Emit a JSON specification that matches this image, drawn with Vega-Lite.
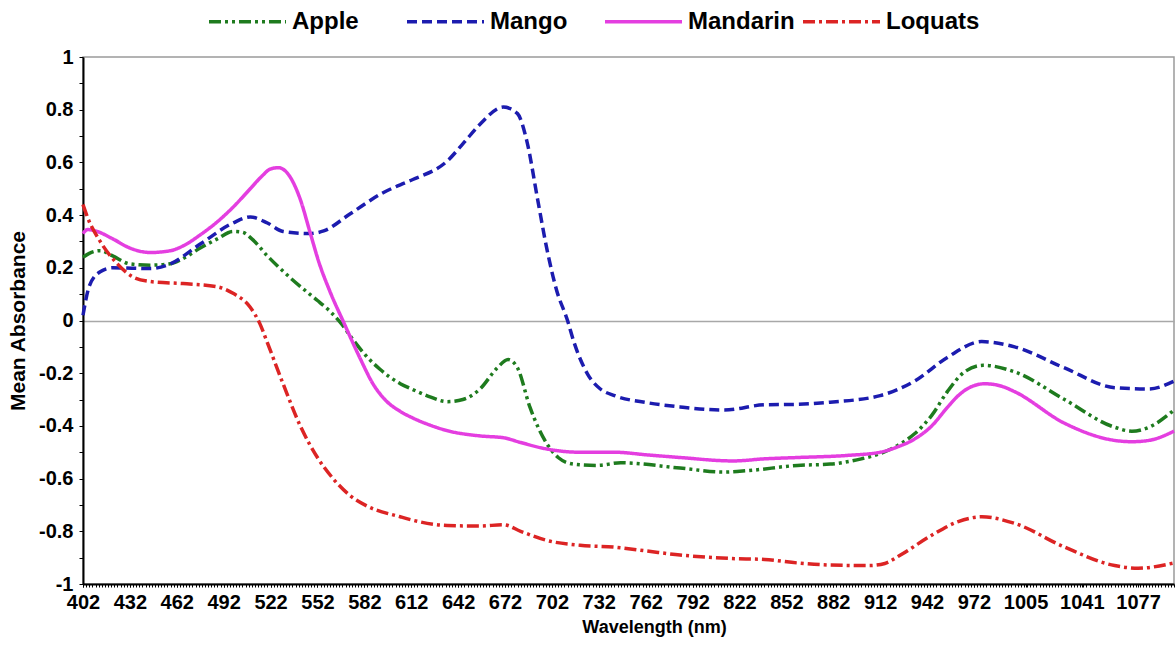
{
  "$schema": "https://vega.github.io/schema/vega-lite/v6.json",
  "width": 1091,
  "height": 527,
  "autosize": {"type": "none"},
  "padding": {"left": 83, "top": 57, "right": 1, "bottom": 61},
  "background": "white",
  "config": {
    "view": {"stroke": "#9a9a9a", "strokeWidth": 1.5},
    "font": "Liberation Sans"
  },
  "data": {
    "values": [
      {"fruit": "Apple", "nm": 402, "absorbance": 0.24},
      {"fruit": "Apple", "nm": 406, "absorbance": 0.255},
      {"fruit": "Apple", "nm": 413, "absorbance": 0.265},
      {"fruit": "Apple", "nm": 421, "absorbance": 0.245},
      {"fruit": "Apple", "nm": 432, "absorbance": 0.215},
      {"fruit": "Apple", "nm": 445, "absorbance": 0.21},
      {"fruit": "Apple", "nm": 458, "absorbance": 0.215},
      {"fruit": "Apple", "nm": 466, "absorbance": 0.235},
      {"fruit": "Apple", "nm": 477, "absorbance": 0.275},
      {"fruit": "Apple", "nm": 488, "absorbance": 0.31},
      {"fruit": "Apple", "nm": 498, "absorbance": 0.338},
      {"fruit": "Apple", "nm": 504, "absorbance": 0.335},
      {"fruit": "Apple", "nm": 510, "absorbance": 0.31},
      {"fruit": "Apple", "nm": 520, "absorbance": 0.245},
      {"fruit": "Apple", "nm": 535, "absorbance": 0.16},
      {"fruit": "Apple", "nm": 547, "absorbance": 0.1},
      {"fruit": "Apple", "nm": 552, "absorbance": 0.076},
      {"fruit": "Apple", "nm": 560, "absorbance": 0.035},
      {"fruit": "Apple", "nm": 567, "absorbance": -0.01},
      {"fruit": "Apple", "nm": 575, "absorbance": -0.075},
      {"fruit": "Apple", "nm": 584, "absorbance": -0.14},
      {"fruit": "Apple", "nm": 592, "absorbance": -0.185},
      {"fruit": "Apple", "nm": 605, "absorbance": -0.24},
      {"fruit": "Apple", "nm": 613, "absorbance": -0.262},
      {"fruit": "Apple", "nm": 624, "absorbance": -0.29},
      {"fruit": "Apple", "nm": 635, "absorbance": -0.308},
      {"fruit": "Apple", "nm": 645, "absorbance": -0.3},
      {"fruit": "Apple", "nm": 656, "absorbance": -0.26},
      {"fruit": "Apple", "nm": 667, "absorbance": -0.18},
      {"fruit": "Apple", "nm": 674, "absorbance": -0.148},
      {"fruit": "Apple", "nm": 680, "absorbance": -0.18},
      {"fruit": "Apple", "nm": 688, "absorbance": -0.33},
      {"fruit": "Apple", "nm": 699, "absorbance": -0.47},
      {"fruit": "Apple", "nm": 706, "absorbance": -0.52},
      {"fruit": "Apple", "nm": 716, "absorbance": -0.545},
      {"fruit": "Apple", "nm": 731, "absorbance": -0.55},
      {"fruit": "Apple", "nm": 746, "absorbance": -0.54},
      {"fruit": "Apple", "nm": 784, "absorbance": -0.56},
      {"fruit": "Apple", "nm": 812, "absorbance": -0.575},
      {"fruit": "Apple", "nm": 827, "absorbance": -0.57},
      {"fruit": "Apple", "nm": 859, "absorbance": -0.55},
      {"fruit": "Apple", "nm": 880, "absorbance": -0.545},
      {"fruit": "Apple", "nm": 900, "absorbance": -0.525},
      {"fruit": "Apple", "nm": 912, "absorbance": -0.505},
      {"fruit": "Apple", "nm": 923, "absorbance": -0.475},
      {"fruit": "Apple", "nm": 934, "absorbance": -0.43},
      {"fruit": "Apple", "nm": 945, "absorbance": -0.36},
      {"fruit": "Apple", "nm": 955, "absorbance": -0.27},
      {"fruit": "Apple", "nm": 966, "absorbance": -0.195},
      {"fruit": "Apple", "nm": 978, "absorbance": -0.17},
      {"fruit": "Apple", "nm": 998, "absorbance": -0.195},
      {"fruit": "Apple", "nm": 1030, "absorbance": -0.3},
      {"fruit": "Apple", "nm": 1062, "absorbance": -0.405},
      {"fruit": "Apple", "nm": 1073, "absorbance": -0.42},
      {"fruit": "Apple", "nm": 1084, "absorbance": -0.405},
      {"fruit": "Apple", "nm": 1100, "absorbance": -0.34},

      {"fruit": "Mango", "nm": 402, "absorbance": 0.02},
      {"fruit": "Mango", "nm": 406, "absorbance": 0.13},
      {"fruit": "Mango", "nm": 413, "absorbance": 0.185},
      {"fruit": "Mango", "nm": 421, "absorbance": 0.2},
      {"fruit": "Mango", "nm": 445, "absorbance": 0.197},
      {"fruit": "Mango", "nm": 456, "absorbance": 0.21},
      {"fruit": "Mango", "nm": 477, "absorbance": 0.29},
      {"fruit": "Mango", "nm": 498, "absorbance": 0.37},
      {"fruit": "Mango", "nm": 509, "absorbance": 0.393},
      {"fruit": "Mango", "nm": 520, "absorbance": 0.37},
      {"fruit": "Mango", "nm": 530, "absorbance": 0.338},
      {"fruit": "Mango", "nm": 547, "absorbance": 0.33},
      {"fruit": "Mango", "nm": 556, "absorbance": 0.34},
      {"fruit": "Mango", "nm": 573, "absorbance": 0.405},
      {"fruit": "Mango", "nm": 594, "absorbance": 0.485},
      {"fruit": "Mango", "nm": 605, "absorbance": 0.515},
      {"fruit": "Mango", "nm": 613, "absorbance": 0.535},
      {"fruit": "Mango", "nm": 635, "absorbance": 0.605},
      {"fruit": "Mango", "nm": 645, "absorbance": 0.67},
      {"fruit": "Mango", "nm": 656, "absorbance": 0.745},
      {"fruit": "Mango", "nm": 671, "absorbance": 0.81},
      {"fruit": "Mango", "nm": 680, "absorbance": 0.785},
      {"fruit": "Mango", "nm": 686, "absorbance": 0.68},
      {"fruit": "Mango", "nm": 693, "absorbance": 0.455},
      {"fruit": "Mango", "nm": 699, "absorbance": 0.265},
      {"fruit": "Mango", "nm": 705, "absorbance": 0.115},
      {"fruit": "Mango", "nm": 712, "absorbance": 0.0},
      {"fruit": "Mango", "nm": 716, "absorbance": -0.08},
      {"fruit": "Mango", "nm": 725, "absorbance": -0.205},
      {"fruit": "Mango", "nm": 733, "absorbance": -0.26},
      {"fruit": "Mango", "nm": 742, "absorbance": -0.285},
      {"fruit": "Mango", "nm": 763, "absorbance": -0.312},
      {"fruit": "Mango", "nm": 784, "absorbance": -0.328},
      {"fruit": "Mango", "nm": 812, "absorbance": -0.34},
      {"fruit": "Mango", "nm": 838, "absorbance": -0.32},
      {"fruit": "Mango", "nm": 859, "absorbance": -0.318},
      {"fruit": "Mango", "nm": 880, "absorbance": -0.31},
      {"fruit": "Mango", "nm": 912, "absorbance": -0.285},
      {"fruit": "Mango", "nm": 934, "absorbance": -0.23},
      {"fruit": "Mango", "nm": 955, "absorbance": -0.14},
      {"fruit": "Mango", "nm": 977, "absorbance": -0.08},
      {"fruit": "Mango", "nm": 998, "absorbance": -0.1},
      {"fruit": "Mango", "nm": 1030, "absorbance": -0.18},
      {"fruit": "Mango", "nm": 1062, "absorbance": -0.255},
      {"fruit": "Mango", "nm": 1084, "absorbance": -0.26},
      {"fruit": "Mango", "nm": 1100, "absorbance": -0.23},

      {"fruit": "Mandarin", "nm": 402, "absorbance": 0.33},
      {"fruit": "Mandarin", "nm": 405, "absorbance": 0.345},
      {"fruit": "Mandarin", "nm": 410, "absorbance": 0.34},
      {"fruit": "Mandarin", "nm": 421, "absorbance": 0.31},
      {"fruit": "Mandarin", "nm": 432, "absorbance": 0.275},
      {"fruit": "Mandarin", "nm": 445, "absorbance": 0.258},
      {"fruit": "Mandarin", "nm": 458, "absorbance": 0.265},
      {"fruit": "Mandarin", "nm": 466, "absorbance": 0.283},
      {"fruit": "Mandarin", "nm": 477, "absorbance": 0.325},
      {"fruit": "Mandarin", "nm": 488, "absorbance": 0.375},
      {"fruit": "Mandarin", "nm": 498, "absorbance": 0.43},
      {"fruit": "Mandarin", "nm": 509, "absorbance": 0.5},
      {"fruit": "Mandarin", "nm": 516, "absorbance": 0.545},
      {"fruit": "Mandarin", "nm": 522, "absorbance": 0.575},
      {"fruit": "Mandarin", "nm": 527, "absorbance": 0.58},
      {"fruit": "Mandarin", "nm": 531, "absorbance": 0.57},
      {"fruit": "Mandarin", "nm": 535, "absorbance": 0.54},
      {"fruit": "Mandarin", "nm": 541, "absorbance": 0.46},
      {"fruit": "Mandarin", "nm": 547, "absorbance": 0.34},
      {"fruit": "Mandarin", "nm": 553, "absorbance": 0.22},
      {"fruit": "Mandarin", "nm": 560, "absorbance": 0.11},
      {"fruit": "Mandarin", "nm": 569, "absorbance": -0.01},
      {"fruit": "Mandarin", "nm": 579, "absorbance": -0.14},
      {"fruit": "Mandarin", "nm": 588, "absorbance": -0.245},
      {"fruit": "Mandarin", "nm": 596, "absorbance": -0.305},
      {"fruit": "Mandarin", "nm": 605, "absorbance": -0.345},
      {"fruit": "Mandarin", "nm": 613, "absorbance": -0.37},
      {"fruit": "Mandarin", "nm": 624, "absorbance": -0.397},
      {"fruit": "Mandarin", "nm": 635, "absorbance": -0.418},
      {"fruit": "Mandarin", "nm": 656, "absorbance": -0.438},
      {"fruit": "Mandarin", "nm": 671, "absorbance": -0.445},
      {"fruit": "Mandarin", "nm": 682, "absorbance": -0.463},
      {"fruit": "Mandarin", "nm": 699, "absorbance": -0.488},
      {"fruit": "Mandarin", "nm": 720, "absorbance": -0.5},
      {"fruit": "Mandarin", "nm": 742, "absorbance": -0.5},
      {"fruit": "Mandarin", "nm": 763, "absorbance": -0.51},
      {"fruit": "Mandarin", "nm": 784, "absorbance": -0.52},
      {"fruit": "Mandarin", "nm": 818, "absorbance": -0.533},
      {"fruit": "Mandarin", "nm": 838, "absorbance": -0.525},
      {"fruit": "Mandarin", "nm": 859, "absorbance": -0.52},
      {"fruit": "Mandarin", "nm": 891, "absorbance": -0.512},
      {"fruit": "Mandarin", "nm": 912, "absorbance": -0.5},
      {"fruit": "Mandarin", "nm": 923, "absorbance": -0.48},
      {"fruit": "Mandarin", "nm": 934, "absorbance": -0.45},
      {"fruit": "Mandarin", "nm": 945, "absorbance": -0.4},
      {"fruit": "Mandarin", "nm": 955, "absorbance": -0.33},
      {"fruit": "Mandarin", "nm": 962, "absorbance": -0.285},
      {"fruit": "Mandarin", "nm": 970, "absorbance": -0.252},
      {"fruit": "Mandarin", "nm": 979, "absorbance": -0.24},
      {"fruit": "Mandarin", "nm": 990, "absorbance": -0.25},
      {"fruit": "Mandarin", "nm": 998, "absorbance": -0.27},
      {"fruit": "Mandarin", "nm": 1030, "absorbance": -0.39},
      {"fruit": "Mandarin", "nm": 1062, "absorbance": -0.455},
      {"fruit": "Mandarin", "nm": 1073, "absorbance": -0.46},
      {"fruit": "Mandarin", "nm": 1084, "absorbance": -0.455},
      {"fruit": "Mandarin", "nm": 1100, "absorbance": -0.42},

      {"fruit": "Loquats", "nm": 402, "absorbance": 0.44},
      {"fruit": "Loquats", "nm": 405, "absorbance": 0.39},
      {"fruit": "Loquats", "nm": 413, "absorbance": 0.3},
      {"fruit": "Loquats", "nm": 424, "absorbance": 0.215},
      {"fruit": "Loquats", "nm": 434, "absorbance": 0.165},
      {"fruit": "Loquats", "nm": 445, "absorbance": 0.148},
      {"fruit": "Loquats", "nm": 466, "absorbance": 0.14},
      {"fruit": "Loquats", "nm": 488, "absorbance": 0.128},
      {"fruit": "Loquats", "nm": 498, "absorbance": 0.103},
      {"fruit": "Loquats", "nm": 509, "absorbance": 0.05},
      {"fruit": "Loquats", "nm": 515, "absorbance": -0.01},
      {"fruit": "Loquats", "nm": 520, "absorbance": -0.085},
      {"fruit": "Loquats", "nm": 530, "absorbance": -0.24},
      {"fruit": "Loquats", "nm": 541, "absorbance": -0.4},
      {"fruit": "Loquats", "nm": 552, "absorbance": -0.52},
      {"fruit": "Loquats", "nm": 562, "absorbance": -0.6},
      {"fruit": "Loquats", "nm": 573, "absorbance": -0.665},
      {"fruit": "Loquats", "nm": 584, "absorbance": -0.705},
      {"fruit": "Loquats", "nm": 605, "absorbance": -0.745},
      {"fruit": "Loquats", "nm": 613, "absorbance": -0.758},
      {"fruit": "Loquats", "nm": 635, "absorbance": -0.778},
      {"fruit": "Loquats", "nm": 656, "absorbance": -0.78},
      {"fruit": "Loquats", "nm": 671, "absorbance": -0.775},
      {"fruit": "Loquats", "nm": 682, "absorbance": -0.8},
      {"fruit": "Loquats", "nm": 699, "absorbance": -0.835},
      {"fruit": "Loquats", "nm": 720, "absorbance": -0.853},
      {"fruit": "Loquats", "nm": 742, "absorbance": -0.86},
      {"fruit": "Loquats", "nm": 763, "absorbance": -0.875},
      {"fruit": "Loquats", "nm": 784, "absorbance": -0.89},
      {"fruit": "Loquats", "nm": 816, "absorbance": -0.903},
      {"fruit": "Loquats", "nm": 838, "absorbance": -0.907},
      {"fruit": "Loquats", "nm": 859, "absorbance": -0.92},
      {"fruit": "Loquats", "nm": 880, "absorbance": -0.928},
      {"fruit": "Loquats", "nm": 905, "absorbance": -0.93},
      {"fruit": "Loquats", "nm": 915, "absorbance": -0.922},
      {"fruit": "Loquats", "nm": 925, "absorbance": -0.89},
      {"fruit": "Loquats", "nm": 945, "absorbance": -0.815},
      {"fruit": "Loquats", "nm": 962, "absorbance": -0.763},
      {"fruit": "Loquats", "nm": 977, "absorbance": -0.745},
      {"fruit": "Loquats", "nm": 998, "absorbance": -0.77},
      {"fruit": "Loquats", "nm": 1030, "absorbance": -0.86},
      {"fruit": "Loquats", "nm": 1062, "absorbance": -0.93},
      {"fruit": "Loquats", "nm": 1077, "absorbance": -0.94},
      {"fruit": "Loquats", "nm": 1100, "absorbance": -0.92}
    ]
  },
  "layer": [
    {
      "mark": {"type": "line", "strokeWidth": 3.5, "interpolate": "monotone"},
      "encoding": {
        "x": {
          "field": "nm",
          "type": "quantitative",
          "scale": {"domain": [402, 1100], "nice": false, "zero": false},
          "axis": {
            "orient": "bottom",
            "title": "Wavelength (nm)",
            "titleX": 571,
            "values": [402, 432, 462, 492, 522, 552, 582, 612, 642, 672, 702, 732, 762, 792, 822, 852, 882, 912, 942, 972, 1005, 1041, 1077],
            "labelExpr": "'' + datum.value",
            "labelFlush": false,
            "labelOverlap": false,
            "grid": false,
            "domainColor": "black",
            "domainWidth": 2,
            "tickColor": "black",
            "tickSize": 3,
            "tickWidth": 1,
            "labelFont": "Liberation Sans",
            "labelFontSize": 20,
            "labelFontWeight": "bold",
            "labelColor": "black",
            "labelPadding": 5,
            "titleFont": "Liberation Sans",
            "titleFontSize": 18,
            "titleFontWeight": "bold",
            "titleColor": "black",
            "titlePadding": 6
          }
        },
        "y": {
          "field": "absorbance",
          "type": "quantitative",
          "scale": {"domain": [-1, 1], "nice": false},
          "axis": {
            "title": "Mean Absorbance",
            "values": [-1, -0.9, -0.8, -0.7, -0.6, -0.5, -0.4, -0.3, -0.2, -0.1, 0, 0.1, 0.2, 0.3, 0.4, 0.5, 0.6, 0.7, 0.8, 0.9, 1],
            "labelExpr": "abs(round(datum.value * 10)) % 2 == 0 ? '' + round(datum.value * 10) / 10 : ''",
            "labelFlush": false,
            "labelOverlap": false,
            "grid": true,
            "gridColor": "#a8a8a8",
            "gridWidth": 1.5,
            "gridOpacity": {"condition": {"test": "datum.value === 0", "value": 1}, "value": 0},
            "domainColor": "black",
            "domainWidth": 2,
            "tickColor": "black",
            "tickSize": 4,
            "tickWidth": 1,
            "labelFont": "Liberation Sans",
            "labelFontSize": 20,
            "labelFontWeight": "bold",
            "labelColor": "black",
            "labelPadding": 6,
            "titleFont": "Liberation Sans",
            "titleFontSize": 21,
            "titleFontWeight": "bold",
            "titleColor": "black",
            "titlePadding": 10
          }
        },
        "color": {
          "field": "fruit",
          "type": "nominal",
          "scale": {
            "domain": ["Apple", "Mango", "Mandarin", "Loquats"],
            "range": ["#1e7b1e", "#1c1caf", "#e43ee0", "#dc2424"]
          },
          "legend": {
            "orient": "none",
            "legendX": 124,
            "legendY": -76,
            "direction": "horizontal",
            "columns": 4,
            "gridAlign": "all",
            "title": null,
            "symbolType": "stroke",
            "symbolSize": 5929,
            "symbolStrokeWidth": 3.5,
            "labelFont": "Liberation Sans",
            "labelFontSize": 24,
            "labelFontWeight": "bold",
            "labelColor": "black",
            "labelOffset": 4,
            "labelLimit": 300,
            "columnPadding": 1,
            "padding": 0
          }
        },
        "strokeDash": {
          "field": "fruit",
          "type": "nominal",
          "scale": {
            "domain": ["Apple", "Mango", "Mandarin", "Loquats"],
            "range": [[12, 4, 3, 4, 3, 4], [10, 5], [1, 0], [12, 4, 3, 4]]
          },
          "legend": {
            "orient": "none",
            "legendX": 124,
            "legendY": -76,
            "direction": "horizontal",
            "columns": 4,
            "gridAlign": "all",
            "title": null,
            "symbolType": "stroke",
            "symbolSize": 5929,
            "symbolStrokeWidth": 3.5,
            "labelFont": "Liberation Sans",
            "labelFontSize": 24,
            "labelFontWeight": "bold",
            "labelColor": "black",
            "labelOffset": 4,
            "labelLimit": 300,
            "columnPadding": 1,
            "padding": 0
          }
        }
      }
    },
    {
      "mark": {"type": "point", "opacity": 0},
      "encoding": {
        "x": {
          "field": "nm",
          "type": "quantitative",
          "axis": {
            "orient": "bottom",
            "title": null,
            "labels": false,
            "domain": false,
            "grid": false,
            "tickCount": 350,
            "tickSize": 3,
            "tickColor": "black",
            "tickWidth": 1
          }
        }
      }
    }
  ],
  "resolve": {"axis": {"x": "independent"}}
}
